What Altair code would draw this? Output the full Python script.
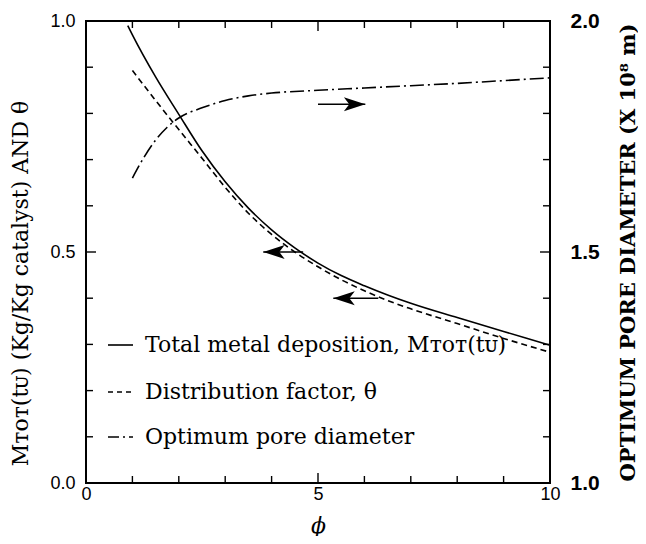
import altair as alt
import pandas as pd

# ---- data ----
PHI_SOLID = [0.9, 1.0, 1.5, 2.0, 2.5, 3.0, 3.5, 4.0, 4.5, 5.0, 5.5, 6.0, 6.5, 7.0, 8.0, 9.0, 10.0]
M_TOT = [0.99, 0.97, 0.879, 0.798, 0.719, 0.652, 0.595, 0.548, 0.509, 0.476, 0.449, 0.427,
         0.407, 0.389, 0.358, 0.328, 0.298]

PHI_THETA = [1.0, 1.5, 2.0, 2.5, 3.0, 3.5, 4.0, 4.5, 5.0, 5.5, 6.0, 6.5, 7.0, 8.0, 9.0, 10.0]
THETA = [0.893, 0.828, 0.765, 0.703, 0.640, 0.584, 0.538, 0.500, 0.468, 0.440, 0.416,
         0.395, 0.377, 0.345, 0.313, 0.283]

PHI_PORE = [1.0, 1.25, 1.5, 1.75, 2.0, 2.5, 3.0, 3.5, 4.0, 5.0, 6.0, 7.0, 8.0, 9.0, 10.0]
PORE_DIAM = [1.66, 1.705, 1.742, 1.77, 1.79, 1.812, 1.828, 1.838, 1.844, 1.85, 1.855, 1.86, 1.865, 1.871, 1.877]

LEFT_ARROW_TAIL = [4.68, 6.30]
LEFT_ARROW_TIP = [3.82, 5.33]
LEFT_ARROW_Y = [0.50, 0.40]
RIGHT_ARROW_TAIL = [5.00]
RIGHT_ARROW_TIP = [6.02]
RIGHT_ARROW_Y = [1.82]

X_TICKS = [0, 1, 2, 3, 4, 5, 6, 7, 8, 9, 10]
X_MAJOR = [5]
LEFT_TICKS = [0.0, 0.1, 0.2, 0.3, 0.4, 0.5, 0.6, 0.7, 0.8, 0.9, 1.0]
LEFT_MAJOR = [0.5]
RIGHT_TICKS = [1.0, 1.1, 1.2, 1.3, 1.4, 1.5, 1.6, 1.7, 1.8, 1.9, 2.0]
RIGHT_MAJOR = [1.5]

X_LABELS = [0, 5, 10]
LEFT_LABELS = [0.0, 0.5, 1.0]
RIGHT_LABELS = [1.0, 1.5, 2.0]

LEGEND_LABELS = ["Total metal deposition, M\u1d1b\u1d0f\u1d1b(t\u1d1c)",
                 "Distribution factor, \u03b8",
                 "Optimum pore diameter"]

LEFT_TITLE = "M\u1d1b\u1d0f\u1d1b(t\u1d1c)  (Kg/Kg catalyst)  AND \u03b8"
RIGHT_TITLE = "OPTIMUM PORE DIAMETER (X 10\u2078 m)"
X_TITLE = "\u03d5"

# ---- layout / style ----
W, H = 464, 462
LINE_W = 1.6
MINOR_LEN, MAJOR_LEN = 7, 10
DASH = [6, 4]
DASHDOT = [14, 4, 2, 4]
LEFT_HEAD = "M0,0L2,-0.65L1.5,0L2,0.65Z"
RIGHT_HEAD = "M0,0L-2,-0.65L-1.5,0L-2,0.65Z"

xs = alt.Scale(domain=[0, 10], nice=False, zero=False)
yl = alt.Scale(domain=[0, 1], nice=False, zero=False)
yr = alt.Scale(domain=[1, 2], nice=False, zero=False)

x_axis = alt.Axis(values=X_LABELS, format="d", ticks=False, domain=False, grid=False,
                  labelFont="Liberation Sans", labelFontSize=18, labelPadding=2,
                  labelColor="black", labelFlush=False,
                  title=X_TITLE, titleFont="DejaVu Serif", titleFontStyle="italic",
                  titleFontWeight="normal", titleFontSize=22, titleColor="black",
                  titleX=W / 2, titleY=42, titleBaseline="middle", titleAlign="center")

left_axis = alt.Axis(orient="left", values=LEFT_LABELS, format=".1f", ticks=False,
                     domain=False, grid=False, labelFont="Liberation Sans",
                     labelFontSize=18, labelPadding=11, labelColor="black", labelFlush=False,
                     title=LEFT_TITLE, titleFont="DejaVu Serif", titleFontWeight="normal",
                     titleFontSize=22, titleColor="black", titleAngle=270,
                     titleX=-66, titleY=262, titleAlign="center", titleBaseline="middle")

right_axis = alt.Axis(orient="right", values=RIGHT_LABELS, format=".1f", ticks=False,
                      domain=False, grid=False, labelFont="Liberation Sans",
                      labelFontSize=21, labelFontWeight="bold", labelPadding=20,
                      labelColor="black", labelFlush=False,
                      title=RIGHT_TITLE, titleFont="DejaVu Serif", titleFontWeight="bold",
                      titleFontSize=21, titleColor="black", titleAngle=270,
                      titleX=78, titleY=231, titleAlign="center", titleBaseline="middle")


def X(field):
    # every x-field layer carries the same axis so that the shared axis merges cleanly
    return alt.X(field, scale=xs, axis=x_axis)


df_solid = pd.DataFrame({"phi": PHI_SOLID, "y": M_TOT})
df_theta = pd.DataFrame({"phi": PHI_THETA, "y": THETA})
df_pore = pd.DataFrame({"phi": PHI_PORE, "y": PORE_DIAM})
df_la = pd.DataFrame({"tail": LEFT_ARROW_TAIL, "tip": LEFT_ARROW_TIP, "y": LEFT_ARROW_Y})
df_ra = pd.DataFrame({"tail": RIGHT_ARROW_TAIL, "tip": RIGHT_ARROW_TIP, "y": RIGHT_ARROW_Y})

solid = alt.Chart(df_solid).mark_line(color="black", strokeWidth=LINE_W, interpolate="monotone").encode(
    x=X("phi:Q"), y=alt.Y("y:Q", scale=yl, axis=left_axis))

dashed = alt.Chart(df_theta).mark_line(color="black", strokeWidth=LINE_W, strokeDash=DASH,
                                       interpolate="monotone").encode(
    x=X("phi:Q"), y=alt.Y("y:Q", scale=yl, axis=None))

dashdot = alt.Chart(df_pore).mark_line(color="black", strokeWidth=LINE_W, strokeDash=DASHDOT,
                                       interpolate="monotone").encode(
    x=X("phi:Q"), y=alt.Y("y:Q", scale=yr, axis=right_axis))


def arrow(df, yscale, shape):
    shaft = alt.Chart(df).mark_rule(color="black", strokeWidth=1.5).encode(
        x=X("tail:Q"), x2="tip:Q",
        y=alt.Y("y:Q", scale=yscale, axis=None))
    head = alt.Chart(df).mark_point(shape=shape, filled=True, size=460, color="black",
                                    opacity=1, strokeWidth=0).encode(
        x=X("tip:Q"),
        y=alt.Y("y:Q", scale=yscale, axis=None))
    return [shaft, head]


def split(vals, major):
    return ([v for v in vals if v not in major], [v for v in vals if v in major])


tick_layers = []
for vals, ln in zip(split(X_TICKS, X_MAJOR), (MINOR_LEN, MAJOR_LEN)):
    d = pd.DataFrame({"v": vals})
    tick_layers.append(alt.Chart(d).mark_rule(color="black", strokeWidth=1.4).encode(
        x=X("v:Q"), y=alt.value(H), y2=alt.value(H - ln)))
    tick_layers.append(alt.Chart(d).mark_rule(color="black", strokeWidth=1.4).encode(
        x=X("v:Q"), y=alt.value(0), y2=alt.value(ln)))
for vals, ln in zip(split(LEFT_TICKS, LEFT_MAJOR), (MINOR_LEN, MAJOR_LEN)):
    d = pd.DataFrame({"v": vals})
    tick_layers.append(alt.Chart(d).mark_rule(color="black", strokeWidth=1.4).encode(
        y=alt.Y("v:Q", scale=yl, axis=None), x=alt.value(0), x2=alt.value(ln)))
for vals, ln in zip(split(RIGHT_TICKS, RIGHT_MAJOR), (MINOR_LEN, MAJOR_LEN)):
    d = pd.DataFrame({"v": vals})
    tick_layers.append(alt.Chart(d).mark_rule(color="black", strokeWidth=1.4).encode(
        y=alt.Y("v:Q", scale=yr, axis=None), x=alt.value(W), x2=alt.value(W - ln)))

# legend (drawn by hand)
LEG_Y = [324, 371, 416]
LEG_DASH = [None, [5, 4], [11, 4, 2, 4]]
legend_layers = []
for lab, ly, dash in zip(LEGEND_LABELS, LEG_Y, LEG_DASH):
    d = pd.DataFrame({"label": [lab]})
    rule_kw = dict(color="black", strokeWidth=LINE_W)
    if dash:
        rule_kw["strokeDash"] = dash
    legend_layers.append(alt.Chart(d).mark_rule(**rule_kw).encode(
        x=alt.value(22), x2=alt.value(47), y=alt.value(ly)))
    legend_layers.append(alt.Chart(d).mark_text(
        align="left", baseline="middle", font="DejaVu Serif", fontSize=22,
        color="black").encode(x=alt.value(59), y=alt.value(ly), text="label:N"))

layers = [dashed, dashdot] + arrow(df_la, yl, LEFT_HEAD) + arrow(df_ra, yr, RIGHT_HEAD) \
    + tick_layers + [solid] + legend_layers

chart = alt.layer(*layers).resolve_scale(y="independent").properties(
    width=W, height=H,
    autosize=alt.AutoSizeParams(type="none"),
    padding={"left": 78, "top": 13, "right": 88, "bottom": 53},
    background="white",
).configure_view(stroke="black", strokeWidth=2)

chart.save("out.html", embed_options={"renderer": "svg", "actions": False})
